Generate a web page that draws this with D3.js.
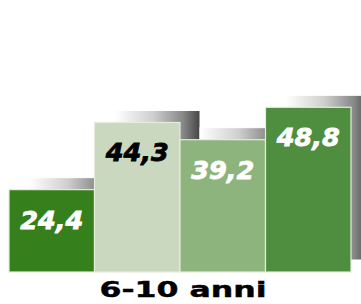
<!DOCTYPE html>
<html>
<head>
<meta charset="utf-8">
<script src="https://cdn.jsdelivr.net/npm/d3@7"></script>
<style>
  body { margin: 0; background: #fff; }
  svg { display: block; }
</style>
</head>
<body>
<div id="chart"></div>
<script>
// Chart data
var category = "6-10 anni";
var series = ["s1", "s2", "s3", "s4"];
var values = [24.4, 44.3, 39.2, 48.8];
var valueLabels = ["24,4", "44,3", "39,2", "48,8"];

// Colors for each bar and its label
var barColors = ["#35801d", "#cbd8c0", "#8db47c", "#4e8e3e"];
var labelColors = ["#ffffff", "#000000", "#ffffff", "#ffffff"];

var width = 361, height = 304;

var svg = d3.select("#chart")
    .append("svg")
    .attr("width", width)
    .attr("height", height);

// Gradient for the fake 3D shadow behind each bar
var defs = svg.append("defs");
var grad = defs.append("linearGradient")
    .attr("id", "shadowGrad")
    .attr("x1", "0%").attr("x2", "100%")
    .attr("y1", "0%").attr("y2", "0%");
grad.append("stop").attr("offset", "0%").attr("stop-color", "#ffffff");
grad.append("stop").attr("offset", "45%").attr("stop-color", "#cfcfcf");
grad.append("stop").attr("offset", "80%").attr("stop-color", "#888888");
grad.append("stop").attr("offset", "100%").attr("stop-color", "#444444");

// Scales
var x = d3.scaleBand()
    .domain(series)
    .range([9, 351])
    .padding(0);

var y = d3.scaleLinear()
    .domain([0, 80])
    .range([272, 2]);

var data = series.map(function (s, i) {
    return { key: s, value: values[i], label: valueLabels[i], color: barColors[i], textColor: labelColors[i] };
});

var shadowDx = 20, shadowDy = -12;

// Shadows first, then the bars on top
svg.append("g")
    .selectAll("rect")
    .data(data)
    .join("rect")
    .attr("x", d => x(d.key) + shadowDx)
    .attr("y", d => y(d.value) + shadowDy)
    .attr("width", x.bandwidth())
    .attr("height", d => y(0) - y(d.value))
    .attr("fill", "url(#shadowGrad)")
    .attr("stroke", "#ffffff")
    .attr("stroke-width", 1);

svg.append("g")
    .selectAll("rect")
    .data(data)
    .join("rect")
    .attr("x", d => x(d.key))
    .attr("y", d => y(d.value))
    .attr("width", x.bandwidth())
    .attr("height", d => y(0) - y(d.value))
    .attr("fill", d => d.color)
    .attr("stroke", "#e4ecdc")
    .attr("stroke-width", 1.2);

// Value labels inside the top of each bar (stroke thickens the glyphs)
svg.append("g")
    .selectAll("text")
    .data(data)
    .join("text")
    .attr("x", d => x(d.key) + x.bandwidth() / 2)
    .attr("y", d => y(d.value) + 39)
    .attr("text-anchor", "middle")
    .attr("font-family", "DejaVu Sans, Verdana, sans-serif")
    .attr("font-weight", "bold")
    .attr("font-style", "italic")
    .attr("font-size", 25)
    .attr("textLength", 63)
    .attr("lengthAdjust", "spacingAndGlyphs")
    .attr("fill", d => d.textColor)
    .attr("stroke", d => d.textColor)
    .attr("stroke-width", 0.8)
    .text(d => d.label);

// Category label below the bars
svg.append("text")
    .attr("x", 183)
    .attr("y", 297)
    .attr("text-anchor", "middle")
    .attr("font-family", "DejaVu Sans, sans-serif")
    .attr("font-weight", "bold")
    .attr("font-size", 21)
    .attr("textLength", 167)
    .attr("lengthAdjust", "spacingAndGlyphs")
    .attr("fill", "#000")
    .attr("stroke", "#000")
    .attr("stroke-width", 0.4)
    .text(category);
</script>
</body>
</html>
